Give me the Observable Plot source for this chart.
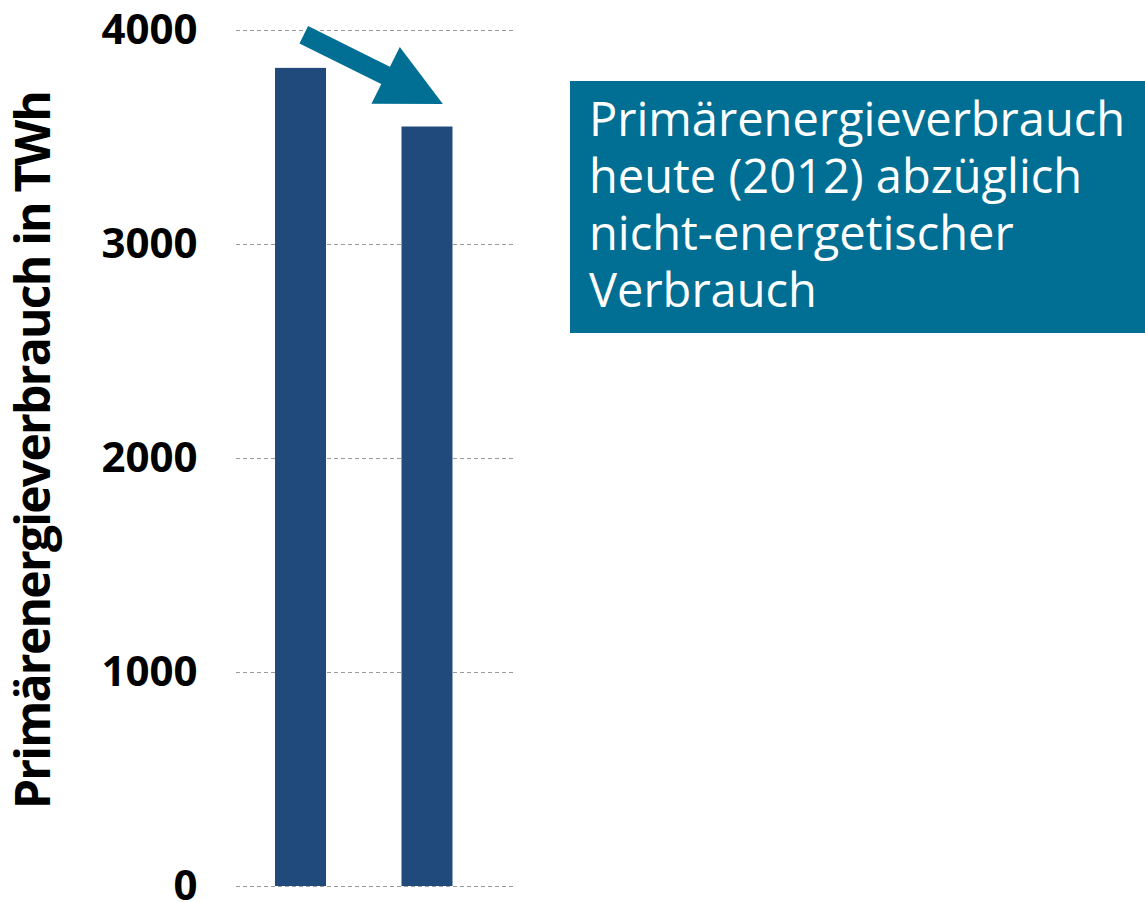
<!DOCTYPE html>
<html>
<head>
<meta charset="utf-8">
<script src="https://cdn.jsdelivr.net/npm/d3@7"></script>
<script src="https://cdn.jsdelivr.net/npm/@observablehq/plot@0.6"></script>
<style>
  html, body { margin: 0; padding: 0; background: #fff; }
  #wrap { position: relative; width: 1145px; height: 902px; font-family: "Open Sans", sans-serif; }
  #note {
    position: absolute; left: 570px; top: 81px; width: 575px; height: 252px;
    background: #006f93; color: #fff; box-sizing: border-box;
    padding: 9px 0 0 19px; font-size: 47px; font-weight: 400;
  }
  #note div { height: 57px; line-height: 57px; white-space: nowrap; }
</style>
</head>
<body>
<div id="wrap">
  <div id="chart"></div>
  <div id="note"></div>
</div>
<script>
// Data
const categories = ["Primärenergieverbrauch 2012", "abzüglich nicht-energetischer Verbrauch"];
const values = [3823, 3549];
const yTicks = [0, 1000, 2000, 3000, 4000];
const yLabel = "Primärenergieverbrauch in TWh";
const noteLines = ["Primärenergieverbrauch", "heute (2012) abzüglich", "nicht-energetischer", "Verbrauch"];
// annotation arrow (data units: x = bar position, y = TWh)
const arrowTail = {x: 1.022, y: 3980};
const arrowHeadBase = {x: 1.676, y: 3788};

const barColor = "#1f4a7b";
const teal = "#006f93";

const bars = categories.map((c, i) => ({category: c, pos: i + 1, value: values[i]}));

// filled arrow head: isosceles triangle, base at origin, pointing along the shaft
const angle = 26.5 * Math.PI / 180;
const headLen = 63, headHalf = 31.75;
const headSymbol = {
  draw(ctx) {
    const c = Math.cos(angle), s = Math.sin(angle);
    const pt = (u, v) => [u * c - v * s, u * s + v * c];
    const a = pt(-1, -headHalf), b = pt(headLen, 0), d = pt(-1, headHalf);
    ctx.moveTo(a[0], a[1]); ctx.lineTo(b[0], b[1]); ctx.lineTo(d[0], d[1]); ctx.closePath();
  }
};

const chart = Plot.plot({
  width: 1145,
  height: 902,
  marginTop: 30,
  marginBottom: 16,
  marginLeft: 236,
  marginRight: 632,
  style: {fontFamily: "'Open Sans', sans-serif", background: "transparent"},
  x: {domain: [0.49, 2.68], axis: null},
  y: {domain: [0, 4000], axis: null},
  marks: [
    Plot.ruleY(yTicks, {stroke: "#9a9a9a", strokeWidth: 1, strokeDasharray: "4,3"}),
    Plot.rectY(bars, {x1: d => d.pos - 0.5, x2: d => d.pos + 0.5, y: "value", fill: barColor, insetLeft: 37.75, insetRight: 37.75}),
    Plot.axisY({ticks: yTicks, tickSize: 0, tickPadding: 39, tickFormat: d => String(d), fontSize: 42, fontWeight: "bold", fill: "#000"}),
    Plot.text([yLabel], {frameAnchor: "left", rotate: -90, dx: -186.5, dy: -8, textAnchor: "middle", lineAnchor: "bottom", fontSize: 48, fontWeight: "bold", fill: "#000"}),
    Plot.link([{tail: arrowTail, head: arrowHeadBase}], {x1: d => d.tail.x, y1: d => d.tail.y, x2: d => d.head.x, y2: d => d.head.y, stroke: teal, strokeWidth: 19.4, strokeLinecap: "butt"}),
    Plot.dot([arrowHeadBase], {x: "x", y: "y", symbol: headSymbol, r: 10, fill: teal, stroke: "none"})
  ]
});
document.getElementById("chart").appendChild(chart);
// slightly condensed axis title, as in the reference typeface
chart.querySelectorAll('g[aria-label="text"] text').forEach(t => t.style.letterSpacing = "-1.75px");

const note = document.getElementById("note");
noteLines.forEach(line => {
  const div = document.createElement("div");
  div.textContent = line;
  note.appendChild(div);
});
</script>
</body>
</html>
